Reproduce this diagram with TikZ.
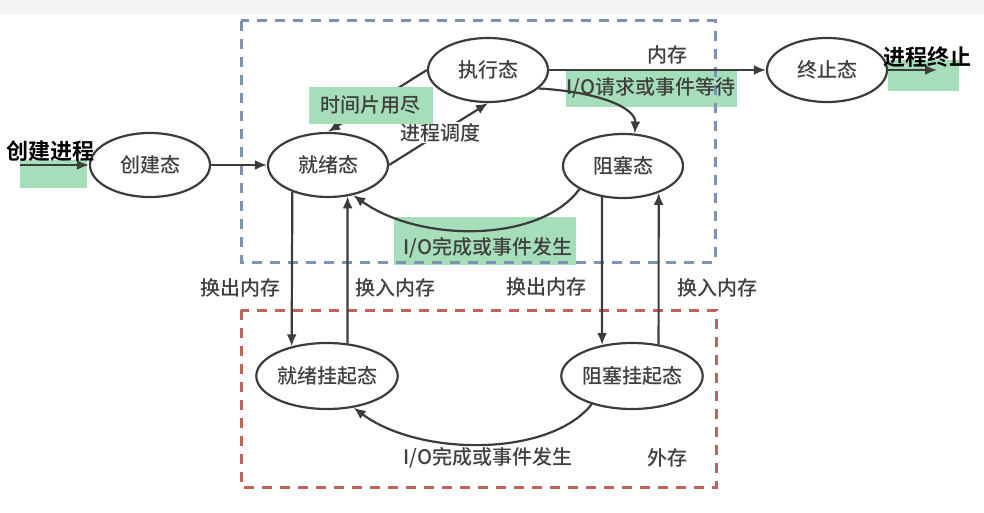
\documentclass[tikz,border=0pt]{standalone}
\usepackage{fontspec}
\setmainfont{Noto Sans CJK SC}[UprightFont={* Medium}, BoldFont={* Bold}]
\usepackage{tikz}
\usetikzlibrary{arrows.meta, positioning, shapes.geometric, backgrounds}
\definecolor{linegray}{HTML}{3C3C3C}
\definecolor{textgray}{HTML}{404040}
\definecolor{marker}{HTML}{A6DEBA}
\definecolor{memblue}{HTML}{7D93B2}
\definecolor{diskred}{HTML}{C0635B}
\definecolor{topband}{HTML}{F4F4F4}

\begin{document}
\begin{tikzpicture}[
    x=1pt, y=-1pt,
    every node/.style={font=\fontsize{20}{24}\selectfont, text=textgray},
    state/.style={ellipse, draw=linegray, line width=2.2pt, minimum width=120pt, minimum height=64pt, inner sep=0pt},
    wstate/.style={state, minimum width=138pt, minimum height=66pt},
    arr/.style={draw=linegray, line width=2.2pt, -{Latex[length=12pt, width=10pt]}},
    region/.style={line width=3pt, dash pattern=on 10pt off 8pt},
    hlbox/.style={fill=marker},
    bigtext/.style={font=\fontsize{22}{26}\selectfont\bfseries, text=black},
    outlbl/.style={anchor=east, inner sep=2pt},
    inlbl/.style={anchor=west, inner sep=2pt},
]
\useasboundingbox (0,0) rectangle (984,513);
\fill[topband] (0,0) rectangle (984,14);
% highlighter marks
\fill[marker] (20,160) rectangle (87,188);
\fill[marker] (888,60) rectangle (959,91);
\fill[marker] (566,71) rectangle (737,107);
\fill[marker] (394,217) rectangle (576,265);
% memory / disk regions
\draw[region, draw=memblue] (241,21) rectangle (715,262);
\draw[region, draw=diskred] (241,310) rectangle (716,487);
\node (inmem) at (667,55) {内存};
\node (outmem) at (667,458) {外存};
% states
\node[state] (create) at (150,165) {创建态};
\node[state] (ready) at (328,165) {就绪态};
\node[state] (run) at (488,70) {执行态};
\node[state] (block) at (623,166) {阻塞态};
\node[state] (term) at (827,70) {终止态};
\node[wstate] (rsusp) at (327,376) {就绪挂起态};
\node[wstate] (bsusp) at (632,376) {阻塞挂起态};
\coordinate (newin) at (20,165);
\coordinate (termout) at (937,70);
% transitions
\draw[arr] (newin) -- (create);
\draw[arr] (create) -- (ready);
\draw[arr] (ready.east) -- node[fill=white, inner sep=1pt, pos=0.52] (schedlbl) {进程调度} (run.south);
\draw[arr] (run.west) -- node[hlbox, minimum width=124pt, minimum height=37pt, pos=0.57] (slicelbl) {时间片用尽} (ready.north);
\draw[arr] (run) -- (term);
\draw[arr] (term) -- (termout);
\draw[arr] (run.340) .. controls (600,92) and (636,108) .. (block.70);
\draw[arr] (block.208) .. controls (540,243) and (420,243) .. (ready.310);
\draw[arr] (bsusp.215) .. controls (550,457) and (420,457) .. (rsusp.310);
\draw[arr] (ready.217) -- node[outlbl, pos=0.62, xshift=-8pt] (outa) {换出内存} (rsusp.140);
\draw[arr] (rsusp.58) -- node[inlbl, pos=0.38, xshift=5pt] (ina) {换入内存} (ready.302);
\draw[arr] (block.236) -- node[outlbl, pos=0.61, xshift=-12pt] (outb) {换出内存} (bsusp.134);
\draw[arr] (bsusp.50) -- node[inlbl, pos=0.37, xshift=16pt] (inb) {换入内存} (block.323);
% labels
\node (waitlbl) at (651,88) {I/O请求或事件等待};
\node (wakelbl) at (488,248) {I/O完成或事件发生};
\node (swakelbl) at (488,458) {I/O完成或事件发生};
\node[bigtext] (createlbl) at (50,151) {创建进程};
\node[bigtext] (termlbl) at (927,57) {进程终止};
\end{tikzpicture}
\end{document}
